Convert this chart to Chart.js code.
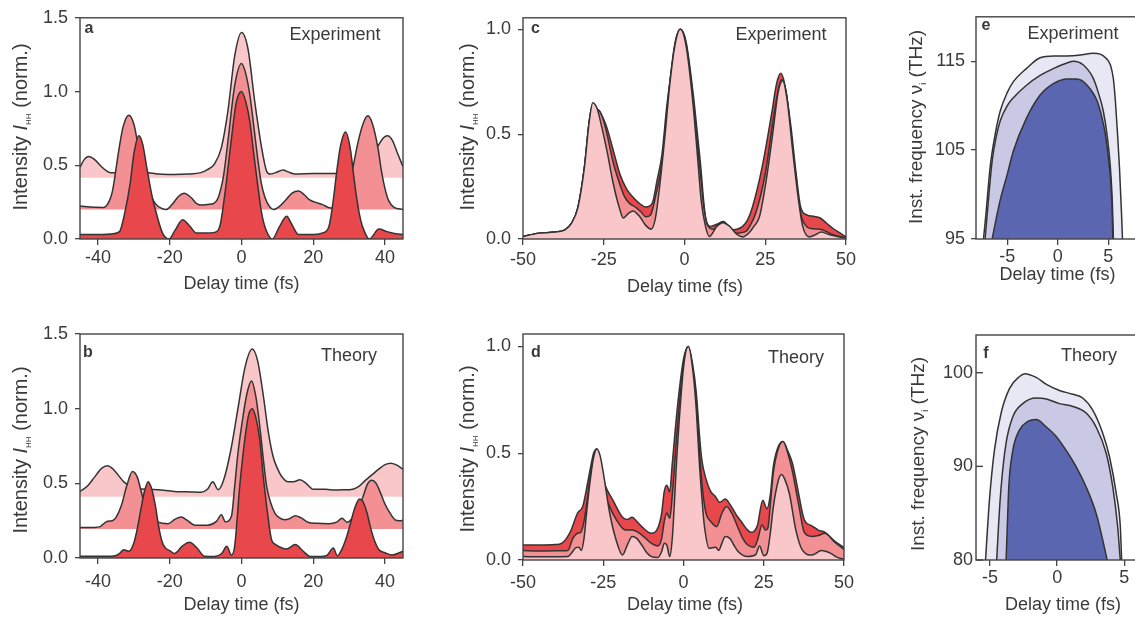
<!DOCTYPE html>
<html>
<head>
<meta charset="utf-8">
<script src="https://cdn.jsdelivr.net/npm/chart.js@4"></script>
<style>
html, body { margin: 0; padding: 0; background: #fff; overflow: hidden; }
#wrap { position: relative; width: 1135px; height: 619px; overflow: hidden; }
canvas { position: absolute; }
</style>
</head>
<body>
<div id="wrap">
  <canvas id="pa" width="420" height="300" style="left:0;top:0"></canvas>
  <canvas id="pb" width="420" height="319" style="left:0;top:300px"></canvas>
  <canvas id="pc" width="420" height="300" style="left:440px;top:0"></canvas>
  <canvas id="pd" width="420" height="319" style="left:440px;top:300px"></canvas>
  <canvas id="pe" width="280" height="300" style="left:880px;top:0"></canvas>
  <canvas id="pf" width="280" height="319" style="left:880px;top:300px"></canvas>
</div>
<script>
// ---- data: [delay (fs), value] ----
// a: experiment, three stacked traces (offset baselines)
const aBase = [0, 0.2, 0.415];
const aLow = [[-45,0.03],[-40,0.03],[-36,0.035],[-34,0.05],[-32.5,0.18],[-31,0.38],[-30,0.575],[-28.6,0.70],[-27.5,0.64],[-26.5,0.5],[-25,0.3],[-24,0.2],[-22,0.04],[-20.2,0.0],[-18.5,0.06],[-16.4,0.13],[-14.5,0.09],[-12.5,0.04],[-10,0.04],[-7.5,0.045],[-6,0.09],[-4.5,0.33],[-3,0.64],[-1.5,0.92],[0,1.0],[1.2,0.93],[2.3,0.8],[3.5,0.56],[4.6,0.35],[5.5,0.19],[6.5,0.085],[8.6,0.0],[10.5,0.08],[12.6,0.155],[14,0.1],[15.9,0.03],[20,0.03],[22.4,0.04],[24.3,0.08],[25.5,0.25],[26.5,0.45],[27.5,0.62],[29,0.725],[30.4,0.6],[31.3,0.42],[32.2,0.26],[33.2,0.13],[34.1,0.06],[35.6,0.0],[38.3,0.067],[40.5,0.05],[43,0.035],[45,0.03]];
const aMid = [[-45,0.223],[-41,0.215],[-38.4,0.214],[-37,0.25],[-36,0.32],[-34.2,0.6],[-33,0.76],[-31.4,0.84],[-30,0.78],[-29,0.66],[-27.5,0.47],[-26,0.33],[-24,0.24],[-22,0.205],[-21,0.2],[-19.5,0.23],[-17.5,0.29],[-16,0.31],[-14,0.28],[-12.5,0.24],[-11,0.23],[-9,0.235],[-7.5,0.245],[-6.5,0.28],[-5,0.43],[-3.8,0.66],[-1.9,1.04],[0,1.19],[1.2,1.12],[2.3,0.98],[3.5,0.75],[4.6,0.53],[5.5,0.38],[6.5,0.285],[7.8,0.22],[8.9,0.2],[10.5,0.22],[12.5,0.27],[14,0.31],[15.9,0.325],[17.5,0.3],[19,0.265],[20.5,0.25],[22.5,0.235],[24.8,0.21],[26.5,0.215],[28,0.24],[29.5,0.32],[31,0.48],[32.5,0.66],[34,0.79],[35.2,0.835],[36.5,0.78],[38,0.62],[39,0.46],[40,0.34],[41,0.26],[42.5,0.215],[45,0.2]];
const aTop = [[-45,0.486],[-43.8,0.54],[-42.6,0.56],[-41,0.54],[-39,0.49],[-37.5,0.46],[-36.5,0.45],[-33,0.45],[-30,0.45],[-26,0.45],[-23,0.44],[-18.7,0.437],[-15,0.44],[-11.3,0.45],[-9.5,0.47],[-7.5,0.51],[-5.6,0.62],[-3.8,0.865],[-1.9,1.24],[0,1.40],[1.8,1.29],[3.7,0.93],[5.6,0.62],[7,0.46],[8,0.44],[9.5,0.45],[11.6,0.468],[13,0.455],[15,0.44],[20,0.445],[26,0.445],[30,0.46],[33,0.5],[36,0.57],[38,0.63],[39.5,0.685],[40.7,0.70],[42,0.67],[43.5,0.58],[45,0.49]];

// b: theory, three stacked traces
const bBase = [0, 0.194, 0.41];
const bLow = [[-45,0.011],[-40,0.011],[-35.6,0.013],[-34,0.03],[-32.8,0.055],[-31.4,0.045],[-30,0.1],[-29,0.2],[-28,0.33],[-27,0.45],[-26,0.51],[-25,0.46],[-24,0.35],[-23,0.2],[-22,0.1],[-21.2,0.067],[-20,0.05],[-18.7,0.03],[-16.5,0.08],[-14.5,0.105],[-12.5,0.07],[-10.3,0.012],[-7.5,0.01],[-5.5,0.03],[-4.1,0.078],[-2.8,0.02],[-1.9,0.08],[-0.5,0.48],[0.9,0.79],[2,0.96],[3,1.0],[4,0.94],[5.1,0.79],[6,0.56],[7,0.35],[8.4,0.12],[9.5,0.09],[10.5,0.075],[12.5,0.06],[15,0.09],[17,0.05],[19.2,0.01],[22,0.01],[23.9,0.02],[25.6,0.067],[26.7,0.015],[28,0.06],[29,0.12],[30,0.2],[31.5,0.33],[32.9,0.395],[34,0.37],[35,0.3],[36,0.2],[37,0.12],[38.3,0.055],[40,0.035],[42,0.02],[44,0.035],[45,0.045]];
const bMid = [[-45,0.205],[-41,0.205],[-39.4,0.21],[-37.5,0.245],[-36,0.25],[-35,0.27],[-33.5,0.35],[-32,0.48],[-30.4,0.58],[-29,0.54],[-28,0.45],[-27,0.36],[-26,0.3],[-25,0.265],[-23.3,0.24],[-20.5,0.23],[-18.5,0.26],[-16.8,0.274],[-15,0.25],[-13,0.22],[-9.4,0.22],[-7,0.245],[-5.6,0.29],[-4.5,0.243],[-2.8,0.28],[-1.9,0.48],[-1,0.7],[0,0.88],[1.5,1.1],[2.8,1.186],[4,1.08],[5.1,0.88],[6,0.68],[7,0.48],[8,0.38],[9.3,0.3],[10.5,0.27],[12.1,0.256],[13.5,0.265],[15,0.283],[16.5,0.27],[18.7,0.238],[21,0.232],[24.3,0.23],[26.5,0.24],[28,0.267],[29.4,0.24],[31,0.27],[32.5,0.33],[34,0.42],[35,0.49],[36.3,0.52],[37.5,0.5],[39,0.42],[40,0.36],[41.4,0.3],[42.8,0.256],[44,0.25],[45,0.252]];
const bTop = [[-45,0.446],[-43,0.48],[-41,0.54],[-39,0.6],[-37.3,0.617],[-36,0.6],[-34.5,0.56],[-32.8,0.51],[-30,0.47],[-26,0.46],[-23.3,0.457],[-18.7,0.446],[-14,0.442],[-11.3,0.44],[-9.5,0.46],[-8,0.51],[-6.5,0.457],[-5,0.52],[-3,0.72],[-1,1.0],[1,1.28],[3,1.40],[4.5,1.32],[6,1.1],[7.5,0.84],[8.8,0.68],[10,0.6],[11.2,0.546],[13,0.51],[14.5,0.51],[16.3,0.524],[18,0.5],[20,0.46],[23.4,0.46],[26,0.455],[28,0.457],[30,0.457],[32.7,0.48],[34.5,0.52],[36.5,0.56],[38.5,0.6],[40,0.625],[41.6,0.635],[43,0.625],[45,0.595]];

// c: experiment, overlaid traces
const cLight = [[-50,0.012],[-47,0.022],[-45,0.028],[-40,0.033],[-37,0.044],[-35,0.075],[-33,0.15],[-31,0.34],[-29.5,0.56],[-28.4,0.65],[-27,0.62],[-26,0.56],[-24,0.42],[-22,0.26],[-20,0.14],[-19,0.1],[-17.5,0.12],[-16,0.134],[-14,0.11],[-12,0.065],[-10.3,0.047],[-9,0.1],[-7.7,0.25],[-6,0.5],[-4.6,0.73],[-3,0.92],[-1.3,1.0],[0.5,0.92],[2.6,0.65],[4,0.4],[5.2,0.18],[6.5,0.06],[7.7,0.012],[10,0.06],[11.9,0.078],[14,0.06],[16,0.025],[18,0.01],[20,0.03],[21.5,0.06],[23.2,0.106],[25.3,0.28],[27.3,0.5],[29,0.7],[30.4,0.755],[31.8,0.66],[33.5,0.42],[35,0.22],[36.6,0.06],[38.7,0.01],[40.5,0.02],[42.3,0.033],[45,0.02],[50,0.003]];
const cMid = [[-50,0.012],[-45,0.028],[-40,0.033],[-37,0.044],[-35,0.075],[-33,0.15],[-31,0.34],[-29.5,0.56],[-28.4,0.64],[-27.2,0.62],[-26.3,0.61],[-25,0.56],[-24,0.5],[-22,0.36],[-20,0.26],[-18.5,0.2],[-17,0.17],[-15,0.15],[-13.5,0.13],[-12,0.106],[-10.5,0.115],[-9,0.2],[-7,0.36],[-5,0.68],[-3,0.93],[-1.3,1.0],[0.5,0.93],[3,0.62],[4,0.45],[5,0.3],[6,0.15],[7,0.07],[9,0.047],[10.5,0.07],[12,0.083],[14,0.05],[16,0.028],[19,0.036],[20.5,0.07],[22,0.12],[25,0.31],[28,0.62],[30,0.76],[31.5,0.7],[33,0.5],[34.5,0.3],[36,0.12],[37.5,0.065],[39,0.05],[42,0.047],[44,0.035],[46,0.02],[50,0.005]];
const cRed = [[-50,0.012],[-45,0.028],[-40,0.033],[-37,0.044],[-35,0.075],[-33,0.15],[-31,0.34],[-29.5,0.56],[-28.4,0.64],[-27.2,0.62],[-26.3,0.61],[-25,0.57],[-24,0.53],[-22,0.42],[-20,0.31],[-18,0.24],[-16,0.2],[-14,0.17],[-12,0.153],[-10,0.17],[-8.5,0.28],[-7,0.4],[-5.5,0.63],[-4,0.81],[-2.5,0.96],[-1.3,1.0],[0.5,0.94],[3,0.65],[4,0.5],[5,0.35],[6,0.17],[6.5,0.106],[8,0.06],[10,0.07],[12,0.083],[13.5,0.065],[15,0.044],[16.5,0.048],[18,0.06],[19.5,0.09],[21,0.15],[24,0.34],[27,0.6],[28.5,0.74],[29.8,0.79],[31,0.74],[33,0.53],[34.5,0.32],[36,0.15],[38,0.114],[40,0.108],[42,0.1],[44,0.075],[46,0.05],[48,0.03],[50,0.01]];

// d: theory, overlaid traces
const dLight = [[-50,0.016],[-45,0.015],[-40,0.015],[-36,0.016],[-34.5,0.04],[-33.5,0.058],[-32.6,0.06],[-31.8,0.045],[-31,0.1],[-30,0.25],[-29,0.38],[-28,0.48],[-27,0.52],[-26,0.49],[-25,0.41],[-23,0.22],[-21,0.094],[-19,0.023],[-17.5,0.07],[-16,0.11],[-14.5,0.1],[-13,0.07],[-11.5,0.035],[-10,0.016],[-8,0.012],[-6.8,0.04],[-6,0.078],[-5.2,0.07],[-4.3,0.016],[-3.5,0.1],[-2,0.5],[0,0.9],[1.5,1.0],[3,0.875],[4,0.7],[5,0.44],[6,0.24],[6.5,0.16],[8,0.055],[10,0.06],[11,0.045],[12,0.08],[13,0.11],[14.5,0.1],[15.5,0.075],[17,0.04],[20,0.016],[22.5,0.025],[23.7,0.066],[25,0.02],[26,0.03],[27,0.12],[28,0.25],[29.5,0.37],[30.5,0.40],[31.5,0.38],[33,0.31],[35,0.14],[37,0.047],[40,0.023],[43,0.044],[46,0.03],[48,0.012],[50,0.003]];
const dMid = [[-50,0.044],[-45,0.042],[-40,0.043],[-36,0.045],[-34.5,0.1],[-33,0.125],[-32,0.13],[-31,0.18],[-30,0.28],[-29,0.4],[-28,0.49],[-27,0.52],[-26,0.45],[-25,0.34],[-23,0.25],[-21,0.19],[-18,0.14],[-16,0.14],[-13,0.117],[-10,0.078],[-8,0.066],[-6.8,0.1],[-6,0.18],[-5.2,0.22],[-4.3,0.195],[-3.5,0.3],[-2,0.6],[0,0.92],[1.5,1.0],[3,0.88],[4,0.75],[5,0.5],[6,0.32],[7,0.22],[8.5,0.18],[10.3,0.156],[12,0.22],[13.4,0.25],[15,0.22],[17,0.15],[18.5,0.1],[20,0.07],[22,0.06],[23,0.09],[24.5,0.164],[25.5,0.14],[26.3,0.15],[27,0.25],[28,0.41],[29.5,0.52],[31,0.555],[32.5,0.5],[34,0.41],[35,0.33],[36,0.25],[37.6,0.13],[40,0.11],[42,0.115],[44,0.125],[47,0.085],[50,0.05]];
const dRed = [[-50,0.07],[-45,0.07],[-40,0.072],[-38,0.078],[-36.5,0.1],[-35,0.14],[-33,0.22],[-31.4,0.25],[-30,0.35],[-29,0.43],[-28,0.5],[-27,0.52],[-26,0.45],[-25,0.375],[-23.5,0.32],[-22,0.28],[-19,0.2],[-17.5,0.19],[-16,0.2],[-14.5,0.18],[-13,0.156],[-10,0.125],[-8,0.15],[-6.8,0.22],[-6,0.32],[-5.2,0.35],[-4.3,0.32],[-3.5,0.45],[-2,0.7],[0,0.94],[1.5,1.0],[2.8,0.92],[4,0.78],[5,0.58],[5.7,0.47],[7,0.38],[8.5,0.32],[9.8,0.3],[11.3,0.27],[13,0.285],[14.5,0.26],[16.5,0.21],[18,0.18],[20,0.14],[21,0.13],[22,0.135],[23,0.16],[24.7,0.28],[26,0.24],[27,0.3],[28,0.44],[29.5,0.53],[31,0.555],[32.5,0.51],[34,0.45],[35.5,0.34],[37.6,0.19],[40,0.16],[42,0.14],[44,0.13],[47,0.09],[50,0.058]];

// e: experiment, instantaneous frequency (THz)
const eOuter = [[-7.36,95],[-7.1,98],[-6.7,103.1],[-6.2,106.8],[-5.7,109.4],[-5,111.5],[-4.4,112.7],[-3.1,114.2],[-1.75,115.4],[-0.4,115.6],[0.9,115.6],[2.2,115.7],[3.5,115.9],[4.2,115.8],[4.8,115.3],[5.2,114.6],[5.5,113],[5.7,110.5],[5.9,107],[6.1,103.1],[6.3,98],[6.4,95]];
const eMid = [[-7.2,95],[-6.9,99],[-6.5,103.8],[-6.1,106.5],[-5.7,108.3],[-5,110],[-4.4,110.9],[-3.1,112.3],[-1.75,113.4],[-0.4,114.2],[0.9,114.8],[1.55,115],[2.5,114.6],[3.5,113.1],[4,111.5],[4.5,109.4],[4.9,106.5],[5.2,103.1],[5.4,99],[5.5,95]];
const eInner = [[-6.5,95],[-6.1,97.3],[-5.7,99.4],[-5,102.3],[-4.4,104.9],[-3.1,108.6],[-1.75,111.2],[-0.4,112.5],[0.9,113],[1.9,113],[2.9,112.3],[3.9,110.5],[4.4,108.5],[4.7,106.8],[5,104.2],[5.2,102],[5.35,99],[5.45,95]];

// f: theory, instantaneous frequency (THz)
const fOuter = [[-5.33,80],[-5.2,83],[-5.04,86.4],[-4.67,91.7],[-4.17,95.7],[-3.55,98.3],[-2.8,99.6],[-2.4,99.9],[-1.56,99.5],[-0.8,98.75],[0.17,98.1],[1.17,97.7],[1.9,97.3],[2.65,96],[3.4,93.5],[3.9,91],[4.4,87.1],[4.7,83.6],[4.8,80]];
const fMid = [[-4.5,80],[-4.35,84],[-4.17,87.8],[-3.8,92.5],[-3.3,95.3],[-2.56,96.7],[-1.56,97.3],[-0.8,97.2],[0.17,96.7],[1.17,96.4],[2.16,95.7],[2.9,94.2],[3.65,91.4],[4.14,87.8],[4.5,83.6],[4.7,80]];
const fInner = [[-3.8,80],[-3.7,84],[-3.6,87.8],[-3.3,91.7],[-2.8,93.9],[-2.18,94.8],[-1.56,95],[-0.8,94.2],[-0.07,93.2],[0.67,91.7],[1.4,90],[2.16,87.8],[2.9,85],[3.4,82.1],[3.72,80]];

// ---- tick labels ----
const abXTicks = [-40, -20, 0, 20, 40];
const abYTicks = [0, 0.5, 1.0, 1.5];
const cdXTicks = [-50, -25, 0, 25, 50];
const cdYTicks = [0, 0.5, 1.0];
const efXTicks = [-5, 0, 5];
const eYTicks = [95, 105, 115];
const fYTicks = [80, 90, 100];

// ---- look ----
const FONT = "'Liberation Sans', Arial, sans-serif";
const INK = '#3a3a3a';
const RED = '#e8474c', PINK = '#f29094', LIGHT = '#f9c7c9';
const BLUE = '#5b66b0', LAV = '#c9c9e5', PALE = '#e8e8f4';
Chart.defaults.font.family = FONT;
Chart.defaults.color = INK;

const toXY = arr => arr.map(p => ({ x: p[0], y: p[1] }));

function trace(data, bg, fill) {
  return {
    data: toXY(data), backgroundColor: bg, borderColor: '#333', borderWidth: 1.5,
    fill: fill, pointRadius: 0, cubicInterpolationMode: 'monotone'
  };
}

const intensityTitle = [['Intensity ', '20px ' + FONT], ['I', 'italic 20px ' + FONT], ['HH', '8px ' + FONT, 4], [' (norm.)', '20px ' + FONT]];
const freqTitle = [['Inst. frequency ', '19px ' + FONT], ['\u03bd', '19px ' + FONT], ['i', '9px ' + FONT, 4], [' (THz)', '19px ' + FONT]];
const delayTitle = [['Delay time (fs)', '18px ' + FONT]];
const word = w => [[w, '18px ' + FONT]];
const letter = l => [[l, 'bold 16px ' + FONT]];

// frame around plot, inner ticks where needed, and the text labels
function deco(items, inY) {
  return {
    id: 'deco',
    afterDatasetsDraw(chart) {
      const { ctx, chartArea: a, scales } = chart;
      ctx.save();
      ctx.strokeStyle = '#444';
      ctx.lineWidth = 1.4;
      ctx.strokeRect(a.left, a.top, a.right - a.left, a.bottom - a.top);
      (inY || []).forEach(v => {
        const y = scales.y.getPixelForValue(v);
        ctx.beginPath(); ctx.moveTo(a.left, y); ctx.lineTo(a.left + 7, y); ctx.stroke();
      });
      ctx.restore();
    },
    afterDraw(chart) {
      const ctx = chart.ctx;
      items.forEach(it => {
        ctx.save();
        ctx.translate(it.x, it.y);
        if (it.rot) ctx.rotate(it.rot);
        ctx.fillStyle = INK;
        ctx.textBaseline = 'alphabetic';
        ctx.textAlign = 'left';
        let w = 0;
        it.parts.forEach(p => { ctx.font = p[1]; w += ctx.measureText(p[0]).width; });
        let x = -w / 2;
        it.parts.forEach(p => {
          ctx.font = p[1];
          ctx.fillText(p[0], x, p[2] || 0);
          x += ctx.measureText(p[0]).width;
        });
        ctx.restore();
      });
    }
  };
}

function panel(id, o) {
  const [L, T, R, B] = o.area;
  const tickGrid = len => ({ display: true, drawOnChartArea: false, drawTicks: len > 0, tickLength: len, color: '#444', lineWidth: 1.3 });
  return new Chart(document.getElementById(id), {
    type: 'line',
    data: { datasets: o.sets },
    options: {
      responsive: false,
      animation: false,
      events: [],
      layout: { autoPadding: false, padding: { left: 0, top: T, right: o.W - R, bottom: 0 } },
      plugins: { legend: { display: false }, tooltip: { enabled: false } },
      scales: {
        x: {
          type: 'linear', min: o.xr[0], max: o.xr[1],
          afterFit: s => { s.height = o.H - B; },
          afterBuildTicks: s => { s.ticks = o.xt.map(v => ({ value: v })); },
          grid: tickGrid(6), border: { display: false },
          ticks: { padding: o.xpad, font: { size: 18 }, color: INK, maxRotation: 0, autoSkip: false, callback: v => String(v) }
        },
        y: {
          type: 'linear', min: o.yr[0], max: o.yr[1],
          afterFit: s => { s.width = L; },
          afterBuildTicks: s => { s.ticks = o.yt.map(v => ({ value: v })); },
          grid: tickGrid(o.inY ? 0 : 5), border: { display: false },
          ticks: { padding: o.ypad, font: { size: 18 }, color: INK, autoSkip: false, callback: v => o.dec ? v.toFixed(o.dec) : String(v) }
        }
      }
    },
    plugins: [deco(o.texts, o.inY)]
  });
}

const UP = -Math.PI / 2;

panel('pa', {
  W: 420, H: 300, area: [80, 15, 403, 239], xr: [-45, 45], yr: [0, 1.5], xt: abXTicks, yt: abYTicks,
  xpad: 2, ypad: 7, dec: 1,
  sets: [trace(aLow, RED, { value: aBase[0] }), trace(aMid, PINK, { value: aBase[1] }), trace(aTop, LIGHT, { value: aBase[2] })],
  texts: [
    { x: 27, y: 127, rot: UP, parts: intensityTitle },
    { x: 241.5, y: 289, parts: delayTitle },
    { x: 89, y: 33, parts: letter('a') },
    { x: 335, y: 40, parts: word('Experiment') }
  ]
});

panel('pb', {
  W: 420, H: 319, area: [80, 34, 403, 258], xr: [-45, 45], yr: [0, 1.5], xt: abXTicks, yt: abYTicks,
  xpad: 7, ypad: 7, dec: 1,
  sets: [trace(bLow, RED, { value: bBase[0] }), trace(bMid, PINK, { value: bBase[1] }), trace(bTop, LIGHT, { value: bBase[2] })],
  texts: [
    { x: 26.5, y: 150, rot: UP, parts: intensityTitle },
    { x: 241.5, y: 310, parts: delayTitle },
    { x: 88, y: 57, parts: letter('b') },
    { x: 349, y: 61, parts: word('Theory') }
  ]
});

panel('pc', {
  W: 420, H: 300, area: [83, 15, 407, 239], xr: [-50, 50], yr: [0, 1.055], xt: cdXTicks, yt: cdYTicks,
  xpad: 4, ypad: 7, dec: 1,
  sets: [trace(cLight, LIGHT, 'origin'), trace(cMid, PINK, 'origin'), trace(cRed, RED, 'origin')],
  texts: [
    { x: 33.5, y: 127, rot: UP, parts: intensityTitle },
    { x: 245, y: 292, parts: delayTitle },
    { x: 95.5, y: 33, parts: letter('c') },
    { x: 341, y: 40, parts: word('Experiment') }
  ]
});

panel('pd', {
  W: 420, H: 319, area: [83, 34, 407, 260], xr: [-50, 50], yr: [0, 1.058], xt: cdXTicks, yt: cdYTicks,
  xpad: 6, ypad: 7, dec: 1,
  sets: [trace(dLight, LIGHT, 'origin'), trace(dMid, PINK, 'origin'), trace(dRed, RED, 'origin')],
  texts: [
    { x: 33.5, y: 149, rot: UP, parts: intensityTitle },
    { x: 245, y: 310, parts: delayTitle },
    { x: 96, y: 57, parts: letter('d') },
    { x: 356, y: 63, parts: word('Theory') }
  ]
});

panel('pe', {
  W: 280, H: 300, area: [96, 15, 264, 239], xr: [-8.1, 8.53], yr: [95, 120], xt: efXTicks, yt: eYTicks,
  xpad: 1, ypad: 6, dec: 0,
  sets: [trace(eInner, BLUE, 'start'), trace(eMid, LAV, 'start'), trace(eOuter, PALE, 'start')],
  texts: [
    { x: 42, y: 127, rot: UP, parts: freqTitle },
    { x: 177.5, y: 280, parts: delayTitle },
    { x: 106, y: 30, parts: letter('e') },
    { x: 193, y: 39, parts: word('Experiment') }
  ]
});

panel('pf', {
  W: 280, H: 319, area: [96, 35, 263, 260], xr: [-6.04, 6.39], yr: [80, 104.03], xt: efXTicks, yt: fYTicks,
  xpad: 1, ypad: 3, dec: 0, inY: fYTicks,
  sets: [trace(fInner, BLUE, 'start'), trace(fMid, LAV, 'start'), trace(fOuter, PALE, 'start')],
  texts: [
    { x: 43.5, y: 154, rot: UP, parts: freqTitle },
    { x: 183, y: 310, parts: delayTitle },
    { x: 106, y: 58, parts: letter('f') },
    { x: 209, y: 61, parts: word('Theory') }
  ]
});
</script>
</body>
</html>
